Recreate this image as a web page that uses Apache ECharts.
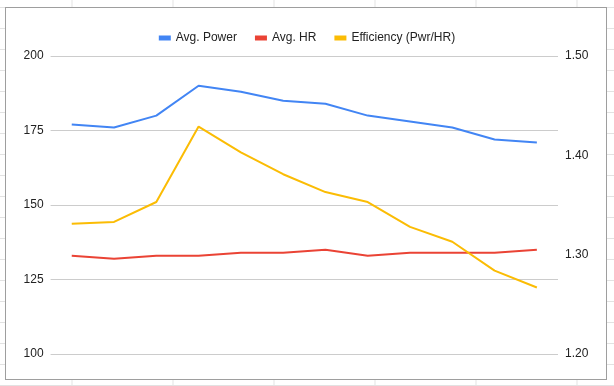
<!DOCTYPE html>
<html>
<head>
<meta charset="utf-8">
<script src="https://cdn.jsdelivr.net/npm/echarts@6/dist/echarts.min.js"></script>
<style>
  html, body { margin: 0; padding: 0; width: 614px; height: 386px; overflow: hidden; }
  body {
    background-color: #ffffff;
    background-image:
      repeating-linear-gradient(to right, transparent 0, transparent 71px, #e2e2e2 71px, #e2e2e2 72px, transparent 72px, transparent 101px),
      repeating-linear-gradient(to bottom, transparent 0, transparent 7px, #e2e2e2 7px, #e2e2e2 8px, transparent 8px, transparent 21px);
    background-position: 0.5px 0, 0 0;
  }
  #box { position: absolute; left: 5px; top: 7px; width: 600px; height: 371px; border: 1px solid #9e9e9e; background: #fff; }
  #chart { position: absolute; left: 0; top: 0; width: 614px; height: 386px; }
</style>
</head>
<body>
<div id="box"></div>
<div id="chart"></div>
<script>
const categories = ['1','2','3','4','5','6','7','8','9','10','11','12'];
const avgPower = [177, 176, 180, 190, 188, 185, 184, 180, 178, 176, 172, 171];
const avgHR = [133, 132, 133, 133, 134, 134, 135, 133, 134, 134, 134, 135];
const efficiency = [1.331, 1.333, 1.353, 1.429, 1.403, 1.381, 1.363, 1.353, 1.328, 1.313, 1.284, 1.267];
const leftTicks = { min: 100, max: 200, interval: 25 };
const rightTicks = { min: 1.2, max: 1.5, interval: 0.1 };

const chart = echarts.init(document.getElementById('chart'), null, { renderer: 'canvas' });
const font = 'Arial, "Liberation Sans", sans-serif';
chart.setOption({
  backgroundColor: 'transparent',
  animation: false,
  textStyle: { fontFamily: font },
  legend: {
    top: 27,
    left: 'center',
    icon: 'rect',
    itemWidth: 12,
    itemHeight: 5,
    itemGap: 18,
    textStyle: { fontSize: 12, color: '#222', fontFamily: font },
    data: ['Avg. Power', 'Avg. HR', 'Efficiency (Pwr/HR)']
  },
  grid: { left: 50.6, right: 56, top: 56, bottom: 32 },
  xAxis: {
    type: 'category',
    data: categories,
    boundaryGap: true,
    axisLine: { show: false },
    axisTick: { show: false },
    axisLabel: { show: false },
    splitLine: { show: false }
  },
  yAxis: [
    {
      type: 'value',
      min: leftTicks.min, max: leftTicks.max, interval: leftTicks.interval,
      axisLine: { show: false }, axisTick: { show: false },
      axisLabel: { color: '#222', fontSize: 12, margin: 7, fontFamily: font },
      splitLine: { lineStyle: { color: '#cccccc', width: 1 } }
    },
    {
      type: 'value',
      min: rightTicks.min, max: rightTicks.max, interval: rightTicks.interval,
      axisLine: { show: false }, axisTick: { show: false },
      axisLabel: { color: '#222', fontSize: 12, margin: 7, fontFamily: font, formatter: v => v.toFixed(2) },
      splitLine: { show: false }
    }
  ],
  series: [
    { name: 'Avg. Power', type: 'line', yAxisIndex: 0, data: avgPower, showSymbol: false, symbol: 'none',
      lineStyle: { width: 2, color: '#4285F4' }, itemStyle: { color: '#4285F4' } },
    { name: 'Avg. HR', type: 'line', yAxisIndex: 0, data: avgHR, showSymbol: false, symbol: 'none',
      lineStyle: { width: 2, color: '#EA4335' }, itemStyle: { color: '#EA4335' } },
    { name: 'Efficiency (Pwr/HR)', type: 'line', yAxisIndex: 1, data: efficiency, showSymbol: false, symbol: 'none',
      lineStyle: { width: 2, color: '#FBBC04' }, itemStyle: { color: '#FBBC04' } }
  ]
});
</script>
</body>
</html>
